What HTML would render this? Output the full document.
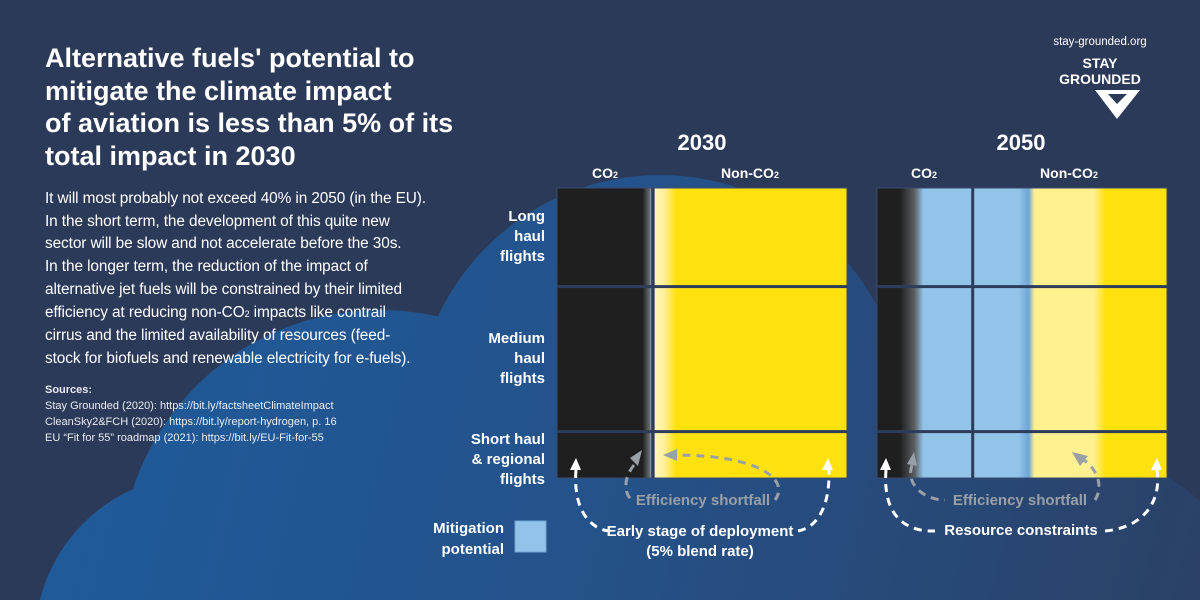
<!DOCTYPE html>
<html><head><meta charset="utf-8"><style>
html,body{margin:0;padding:0;width:1200px;height:600px;overflow:hidden;background:#2c3a59;font-family:"Liberation Sans",sans-serif}
svg{position:absolute;left:0;top:0;overflow:hidden}
.t{position:absolute;color:#fff;white-space:nowrap}
</style></head><body>
<svg width="1200" height="600">
<defs>
<linearGradient id="cloud" gradientUnits="userSpaceOnUse" x1="0" y1="300" x2="1200" y2="600">
<stop offset="0" stop-color="#1e5c9d"/><stop offset="0.5" stop-color="#24528a"/><stop offset="1" stop-color="#2b4167"/></linearGradient>
<linearGradient id="g30" gradientUnits="userSpaceOnUse" x1="557" y1="0" x2="847" y2="0">
<stop offset="0" stop-color="#1f1f1f"/><stop offset="0.295" stop-color="#1f1f1f"/><stop offset="0.32" stop-color="#6a6f70"/><stop offset="0.325" stop-color="#8fb8d8"/><stop offset="0.335" stop-color="#2e3c5c"/><stop offset="0.338" stop-color="#fff6b8"/><stop offset="0.37" stop-color="#fff09a"/><stop offset="0.41" stop-color="#ffe10f"/><stop offset="1" stop-color="#ffe10f"/></linearGradient>
<linearGradient id="g50" gradientUnits="userSpaceOnUse" x1="877" y1="0" x2="1166" y2="0">
<stop offset="0" stop-color="#1f1f1f"/><stop offset="0.08" stop-color="#1f1f1f"/><stop offset="0.13" stop-color="#5a5f62"/><stop offset="0.16" stop-color="#92c3e8"/><stop offset="0.49" stop-color="#92c3e8"/><stop offset="0.525" stop-color="#6fa6d6"/><stop offset="0.545" stop-color="#fff090"/><stop offset="0.75" stop-color="#fff090"/><stop offset="0.79" stop-color="#ffe10f"/><stop offset="1" stop-color="#ffe10f"/></linearGradient>
</defs>
<g fill="url(#cloud)">
<circle cx="380" cy="570" r="260"/><circle cx="660" cy="420" r="245"/><circle cx="200" cy="640" r="165"/><circle cx="1010" cy="720" r="290"/><circle cx="720" cy="720" r="240"/>
</g>
<g id="panels"></g>
<g fill="none" stroke-width="3" stroke-dasharray="8,6">
<path d="M576,470 C572,520 600,532 612,531" stroke="#fff"/>
<path d="M798,531 C815,528 830,510 829,470" stroke="#fff"/>
<path d="M634,465 C622,480 625,495 632,500" stroke="#9aa0a8"/>
<path d="M775,500 C790,480 760,455 675,455" stroke="#9aa0a8"/>
<path d="M886,470 C882,520 910,532 935,531" stroke="#fff"/>
<path d="M1105,531 C1140,528 1162,505 1157,470" stroke="#fff"/>
<path d="M912,465 C905,485 925,500 945,500" stroke="#9aa0a8"/>
<path d="M1095,500 C1105,485 1095,465 1080,458" stroke="#9aa0a8"/>
</g>
<g fill="#fff">
<polygon points="576,458 570,470 581,470"/><polygon points="828,458 822,470 833,470"/><polygon points="886,458 880,470 891,470"/><polygon points="1157,458 1151,470 1162,470"/>
</g>
<g fill="#9aa0a8">
<polygon points="642,450 630,458 638,466"/><polygon points="663,455 677,449 677,461"/><polygon points="914,452 907,464 917,466"/><polygon points="1072,452 1088,456 1080,466"/>
</g>
<rect x="515" y="521" width="31" height="31" fill="#92c3e8" stroke="#6fa6d6"/>
<polygon points="1095,90 1140,90 1117,119" fill="#fff"/>
<polygon points="1108,94 1127,94 1117,104" fill="#2c3a59"/>
</svg>

<div class="t" style="left:45px;top:42px;font-size:27px;font-weight:bold;line-height:32.5px">Alternative fuels' potential to<br>mitigate the climate impact<br>of aviation is less than 5% of its<br>total impact in 2030</div>
<div class="t" style="left:45px;top:188px;font-size:15.4px;line-height:22.7px;letter-spacing:-0.1px">It will most probably not exceed 40% in 2050 (in the EU).<br>In the short term, the development of this quite new<br>sector will be slow and not accelerate before the 30s.<br>In the longer term, the reduction of the impact of<br>alternative jet fuels will be constrained by their limited<br>efficiency at reducing non-CO<span style="font-size:9px">2</span> impacts like contrail<br>cirrus and the limited availability of resources (feed-<br>stock for biofuels and renewable electricity for e-fuels).</div>
<div class="t" style="left:45px;top:382px;font-size:11px;line-height:16px;color:#e8ecf2"><b>Sources:</b><br>Stay Grounded (2020): https://bit.ly/factsheetClimateImpact<br>CleanSky2&amp;FCH (2020): https://bit.ly/report-hydrogen, p. 16<br>EU “Fit for 55” roadmap (2021): https://bit.ly/EU-Fit-for-55</div>

<div class="t" style="left:1040px;top:36px;width:120px;text-align:center;font-size:11.5px">stay-grounded.org</div>
<div class="t" style="left:1040px;top:55px;width:120px;text-align:center;font-size:14px;font-weight:bold;line-height:16px">STAY<br>GROUNDED</div>

<div class="t" style="left:652px;top:130px;width:100px;text-align:center;font-size:22px;font-weight:bold">2030</div>
<div class="t" style="left:971px;top:130px;width:100px;text-align:center;font-size:22px;font-weight:bold">2050</div>
<div class="t" style="left:575px;top:165px;width:60px;text-align:center;font-size:14px;font-weight:bold">CO<span style="font-size:9px">2</span></div>
<div class="t" style="left:700px;top:165px;width:100px;text-align:center;font-size:14px;font-weight:bold">Non-CO<span style="font-size:9px">2</span></div>
<div class="t" style="left:894px;top:165px;width:60px;text-align:center;font-size:14px;font-weight:bold">CO<span style="font-size:9px">2</span></div>
<div class="t" style="left:1019px;top:165px;width:100px;text-align:center;font-size:14px;font-weight:bold">Non-CO<span style="font-size:9px">2</span></div>

<div id="rowlabels"></div>
<div class="t" style="left:400px;top:518px;width:104px;text-align:right;font-size:15px;font-weight:bold;line-height:21px">Mitigation<br>potential</div>
<div class="t" style="left:603px;top:492px;width:200px;text-align:center;font-size:15px;font-weight:bold;color:#9aa0a8">Efficiency shortfall</div>
<div class="t" style="left:590px;top:522px;width:220px;text-align:center;font-size:15px;font-weight:bold;line-height:20px">Early stage of deployment<br>(5% blend rate)</div>
<div class="t" style="left:920px;top:492px;width:200px;text-align:center;font-size:15px;font-weight:bold;color:#9aa0a8">Efficiency shortfall</div>
<div class="t" style="left:921px;top:522px;width:200px;text-align:center;font-size:15px;font-weight:bold">Resource constraints</div>

<script>
const rowLabels=[["Long","haul","flights"],["Medium","haul","flights"],["Short haul","& regional","flights"]];
const rowShares=[0.34,0.5,0.16];
const panelYears=["2030","2050"];
const panelFill=["url(#g30)","url(#g50)"];
const panelX=[557,877], co2Split=[0.33,0.33];
const top0=188, H=290, W=290;
const ns="http://www.w3.org/2000/svg";
const g=document.getElementById('panels');
const rl=document.getElementById('rowlabels');
panelYears.forEach((yr,p)=>{
  const r=document.createElementNS(ns,'rect');
  r.setAttribute('x',panelX[p]);r.setAttribute('y',top0);r.setAttribute('width',W);r.setAttribute('height',H);
  r.setAttribute('fill',panelFill[p]);r.setAttribute('stroke','#3a4a6e');
  
  
  g.appendChild(r);
  const v=document.createElementNS(ns,'rect');
  v.setAttribute('x',panelX[p]+W*co2Split[p]-1.5);v.setAttribute('y',top0);v.setAttribute('width',3);v.setAttribute('height',H);v.setAttribute('fill','#2e3c5c');
  
  
  g.appendChild(v);
  let acc=0;
  rowShares.forEach((s,i)=>{
    if(i>0){
      const h=document.createElementNS(ns,'rect');
      h.setAttribute('x',panelX[p]);h.setAttribute('y',top0+acc*H-1.5);h.setAttribute('width',W);h.setAttribute('height',3);h.setAttribute('fill','#2e3c5c');
      
      
      g.appendChild(h);
    }
    acc+=s;
  });
});
let acc=0;
rowLabels.forEach((lines,i)=>{
  const mid=top0+(acc+rowShares[i]/2)*H;
  acc+=rowShares[i];
  const d=document.createElement('div');
  d.className='t';
  
  
  d.style.cssText='left:425px;width:120px;text-align:right;font-size:15px;font-weight:bold;line-height:20px;top:'+(mid-30+(i==2?5:0))+'px';
  d.innerHTML=lines.join('<br>');
  rl.appendChild(d);
});
</script>
</body></html>
